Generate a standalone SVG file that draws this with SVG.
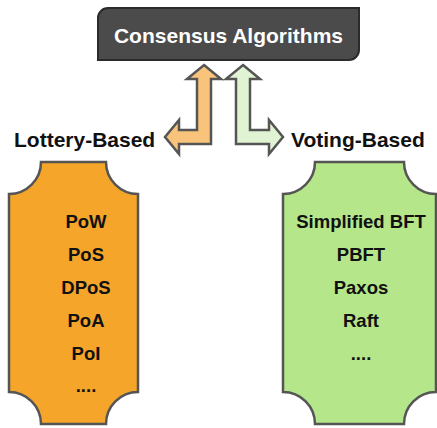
<svg xmlns="http://www.w3.org/2000/svg" width="437" height="428" viewBox="0 0 437 428">
<style>
.t{font-family:"Liberation Sans",Arial,sans-serif;font-weight:bold;text-anchor:middle;fill:#111}
.lbl{font-family:"Liberation Sans",Arial,sans-serif;font-weight:bold;font-size:21px;fill:#111}
.item{font-size:18.5px}
.arrow{stroke:#555;stroke-width:2.5;stroke-linejoin:miter}
.plaque{stroke:#555;stroke-width:2.5}
</style>
<rect width="437" height="428" fill="#fff"/>
<g id="root">
<path d="M108,8 H359 V50 A10 10 0 0 1 349,60 H98 V18 A10 10 0 0 1 108,8 Z" fill="#4b4b4b" stroke="#2b2b2b" stroke-width="2"/>
<text class="t" x="228.5" y="43" font-size="21" style="fill:#fff">Consensus Algorithms</text>
</g>
<g id="connectors">
<polygon class="arrow" fill="#f8c47c" points="204,65 221,79 211,79 211,144 179,144 179,154 165,137 179,120 179,130 197,130 197,79 187,79"/>
<polygon class="arrow" fill="#e0f3d2" points="243,65 260,79 250,79 250,130 269,130 269,120 283,137 269,154 269,144 236,144 236,79 226,79"/>
</g>
<g id="lottery-label"><text class="lbl" x="14" y="147">Lottery-Based</text></g>
<g id="voting-label"><text class="lbl" x="291" y="147">Voting-Based</text></g>
<g id="lottery">
<path class="plaque" fill="#f4a52a" d="M41,162 H106 A32 32 0 0 0 138,194 V392 A32 32 0 0 0 106,424 H41 A32 32 0 0 0 9,392 V194 A32 32 0 0 0 41,162 Z"/>
<text class="t item" x="86" y="228">PoW</text>
<text class="t item" x="86" y="261">PoS</text>
<text class="t item" x="86" y="294">DPoS</text>
<text class="t item" x="86" y="327">PoA</text>
<text class="t item" x="86" y="360">PoI</text>
<text class="t item" x="86" y="392">....</text>
</g>
<g id="voting">
<path class="plaque" fill="#b6e68a" d="M315,162 H404 A32 32 0 0 0 436,194 V392 A32 32 0 0 0 404,424 H315 A32 32 0 0 0 283,392 V194 A32 32 0 0 0 315,162 Z"/>
<text class="t item" x="361" y="228">Simplified BFT</text>
<text class="t item" x="361" y="261">PBFT</text>
<text class="t item" x="361" y="294">Paxos</text>
<text class="t item" x="361" y="327">Raft</text>
<text class="t item" x="361" y="360">....</text>
</g>
</svg>
